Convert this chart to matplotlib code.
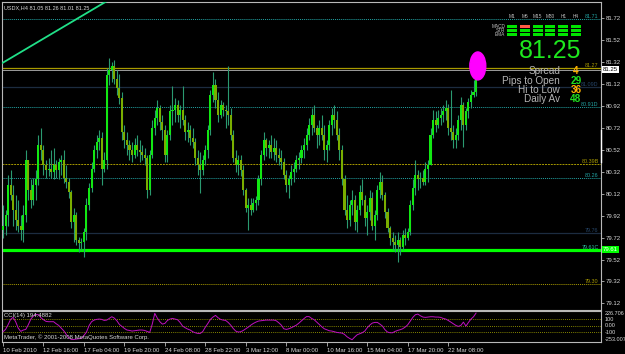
import numpy as np
import matplotlib
matplotlib.use('Agg')
import matplotlib.pyplot as plt
from matplotlib.patches import Ellipse, Rectangle

plt.rcParams['font.family'] = ['Liberation Sans', 'DejaVu Sans']

# =============================================================================
# DATA  (USDX H4)
# =============================================================================

FIRST_OPEN = 79.79

highs = [
    80.02, 79.97, 80.29, 80.34, 80.20, 80.11, 80.06, 79.93, 80.02, 80.52,
    80.43, 80.25, 80.26, 80.34, 80.66, 80.72, 80.56, 80.43, 80.45, 80.52,
    80.54, 80.43, 80.45, 80.47, 80.52, 80.38, 80.26, 80.15, 79.99, 79.95,
    79.73, 79.72, 79.81, 80.08, 80.22, 80.41, 80.56, 80.66, 80.70, 80.68,
    80.50, 81.27, 81.36, 81.32, 81.34, 81.25, 81.21, 81.05, 80.75, 80.68,
    80.61, 80.59, 80.63, 80.66, 80.61, 80.56, 80.54, 80.47, 80.52, 80.79,
    80.88, 80.97, 80.93, 80.84, 80.75, 80.70, 80.93, 81.10, 80.99, 80.97,
    80.93, 81.10, 80.84, 80.77, 80.75, 80.72, 80.63, 80.52, 80.50, 80.47,
    80.56, 80.75, 81.07, 81.23, 81.17, 81.05, 80.97, 80.96, 80.93, 81.28,
    80.90, 80.70, 80.52, 80.47, 80.47, 80.38, 80.17, 80.08, 80.08, 80.08,
    80.10, 80.29, 80.52, 80.68, 80.63, 80.61, 80.66, 80.63, 80.61, 80.54,
    80.52, 80.45, 80.34, 80.29, 80.38, 80.41, 80.47, 80.50, 80.56, 80.63,
    80.72, 80.81, 80.90, 80.93, 80.75, 80.79, 80.84, 80.75, 80.61, 80.79,
    80.90, 80.93, 80.87, 80.72, 80.56, 80.29, 80.11, 80.06, 80.15, 80.11,
    80.02, 80.20, 80.25, 80.11, 80.02, 80.15, 80.14, 79.97, 80.20, 80.32,
    80.29, 80.14, 79.99, 79.83, 79.77, 79.74, 79.77, 79.73, 79.79, 79.81,
    79.81, 80.06, 80.25, 80.43, 80.34, 80.32, 80.34, 80.41, 80.43, 80.72,
    80.88, 80.87, 80.88, 80.90, 80.93, 80.97, 80.94, 81.07, 80.75, 80.72,
    80.84, 81.00, 80.96, 80.90, 80.99, 81.07, 81.16, 81.26,
]

lows = [
    79.72, 79.74, 79.83, 80.06, 79.83, 79.79, 79.77, 79.70, 79.68, 79.86,
    80.06, 79.99, 80.02, 80.06, 80.20, 80.43, 80.29, 80.26, 80.28, 80.26,
    80.25, 80.26, 80.25, 80.29, 80.22, 80.17, 80.08, 79.81, 79.68, 79.65,
    79.59, 79.61, 79.54, 79.70, 79.97, 80.14, 80.32, 80.45, 80.52, 80.20,
    80.32, 80.35, 81.11, 81.14, 81.12, 81.02, 80.94, 80.61, 80.54, 80.47,
    80.43, 80.41, 80.45, 80.46, 80.41, 80.43, 80.38, 80.08, 80.11, 80.45,
    80.66, 80.75, 80.70, 80.61, 80.41, 80.41, 80.61, 80.75, 80.77, 80.77,
    80.72, 80.75, 80.61, 80.59, 80.56, 80.54, 80.38, 80.29, 80.13, 80.29,
    80.38, 80.45, 80.66, 80.96, 80.90, 80.77, 80.81, 80.83, 80.72, 80.75,
    80.61, 80.41, 80.32, 80.29, 80.28, 80.11, 79.95, 79.79, 79.93, 79.95,
    79.97, 80.02, 80.20, 80.43, 80.46, 80.45, 80.45, 80.43, 80.41, 80.38,
    80.35, 80.25, 80.14, 80.08, 80.20, 80.23, 80.32, 80.35, 80.40, 80.45,
    80.52, 80.61, 80.66, 80.68, 80.54, 80.56, 80.61, 80.43, 80.41, 80.52,
    80.66, 80.72, 80.61, 80.43, 80.20, 79.93, 79.81, 79.83, 79.93, 79.79,
    79.77, 79.93, 80.02, 79.83, 79.74, 79.88, 79.79, 79.70, 79.88, 80.08,
    80.06, 79.90, 79.77, 79.65, 79.61, 79.59, 79.50, 79.56, 79.61, 79.65,
    79.70, 79.74, 79.97, 80.11, 80.15, 80.17, 80.20, 80.20, 80.23, 80.38,
    80.63, 80.68, 80.72, 80.75, 80.77, 80.79, 80.66, 80.61, 80.54, 80.54,
    80.61, 80.70, 80.55, 80.70, 80.81, 80.90, 81.00, 81.01,
]

closes = [
    79.83, 79.93, 80.20, 80.11, 79.97, 79.88, 79.83, 79.79, 79.93, 80.43,
    80.15, 80.06, 80.20, 80.25, 80.56, 80.52, 80.38, 80.34, 80.35, 80.32,
    80.38, 80.34, 80.41, 80.43, 80.26, 80.23, 80.14, 79.86, 79.93, 79.70,
    79.67, 79.68, 79.77, 80.02, 80.17, 80.35, 80.52, 80.59, 80.63, 80.35,
    80.43, 81.20, 81.25, 81.28, 81.17, 81.08, 80.99, 80.68, 80.61, 80.56,
    80.52, 80.47, 80.56, 80.52, 80.50, 80.47, 80.45, 80.15, 80.47, 80.72,
    80.81, 80.90, 80.77, 80.70, 80.47, 80.66, 80.87, 80.88, 80.93, 80.84,
    80.88, 80.79, 80.68, 80.70, 80.63, 80.59, 80.45, 80.38, 80.34, 80.43,
    80.52, 80.70, 81.02, 81.11, 80.97, 80.84, 80.93, 80.88, 80.87, 80.84,
    80.66, 80.45, 80.38, 80.43, 80.34, 80.15, 79.99, 80.02, 79.97, 80.04,
    80.06, 80.25, 80.47, 80.61, 80.54, 80.56, 80.50, 80.54, 80.47, 80.45,
    80.41, 80.29, 80.20, 80.25, 80.32, 80.35, 80.43, 80.45, 80.52, 80.56,
    80.66, 80.75, 80.84, 80.72, 80.66, 80.72, 80.66, 80.52, 80.56, 80.75,
    80.84, 80.79, 80.66, 80.52, 80.25, 79.97, 79.88, 80.02, 80.06, 79.86,
    79.97, 80.14, 80.06, 79.90, 79.95, 80.08, 79.83, 79.93, 80.15, 80.23,
    80.11, 79.95, 79.81, 79.72, 79.68, 79.65, 79.70, 79.63, 79.74, 79.72,
    79.77, 80.02, 80.17, 80.29, 80.25, 80.26, 80.23, 80.35, 80.38, 80.66,
    80.79, 80.75, 80.81, 80.84, 80.87, 80.90, 80.72, 80.68, 80.61, 80.66,
    80.79, 80.93, 80.75, 80.87, 80.96, 81.02, 81.05, 81.25,
]

cci = [
    -94, -58, 14, 97, 128, 61, -37, -89, -68, -58,
    14, 102, 148, 174, 169, 123, 92, 66, 61, 61,
    61, 30, 4, -37, -79, -135, -187, -213, -213, -208,
    -203, -197, -151, -99, -1, 61, 86, 97, 102, 97,
    81, 86, 112, 138, 117, 76, 19, -12, -43, -68,
    -74, -84, -79, -74, -68, -68, -74, -89, -105, 24,
    190, 117, 61, 24, 35, 81, 102, 112, 102, 92,
    50, -7, -32, -53, -68, -94, -110, -120, -120, -89,
    -22, 35, 97, 133, 159, 123, 97, 86, 81, 50,
    9, -43, -84, -99, -94, -74, -48, -22, 9, 35,
    55, 71, 76, 81, 86, 86, 86, 86, 76, 45,
    9, -48, -58, -48, -32, -12, 9, 40, 76, 110,
    140, 140, 112, 92, 55, 19, -17, -48, -63, -79,
    -84, -94, -105, -110, -115, -135, -172, -197, -218, -177,
    -141, -125, -110, -84, -32, 9, 40, 50, 50, 24,
    -7, -63, -99, -110, -110, -89, -74, -63, -48, -22,
    14, 71, 128, 169, 179, 153, 133, 128, 133, 138,
    138, 133, 133, 128, 112, 102, 81, 55, 30, 4,
    -12, 4, 55, -7, 50, 102, 138, 194.4882,
]

time_labels = ["10 Feb 2010", "12 Feb 16:00", "17 Feb 04:00", "19 Feb 20:00",
               "24 Feb 08:00", "28 Feb 22:00", "3 Mar 12:00", "8 Mar 00:00",
               "10 Mar 16:00", "15 Mar 04:00", "17 Mar 20:00", "22 Mar 08:00"]
BARS_PER_LABEL = 16

price_ticks = [81.72, 81.52, 81.32, 81.12, 80.92, 80.72, 80.52, 80.32,
               80.12, 79.92, 79.72, 79.52, 79.32, 79.12]

level_prices = [81.71, 81.27, 81.09, 80.91, 80.39, 80.26, 79.76, 79.61, 79.30]
level_names  = ["81.71", "81.27", "81.09D", "80.91D", "80.39B", "80.26",
                "79.76", "79.61C", "79.30"]

BID = 81.25
trend_bars   = [-0.4, 45.0]
trend_prices = [81.31, 81.93]

cci_levels = [100, 0, -100]
CCI_MAX, CCI_MIN = 226.706, -253.007

tf_names   = ["M1", "M5", "M15", "M30", "H1", "H4"]
sig_names  = ["MACD", "STR", "EMA"]
sig_macd   = [1, 0, 1, 1, 1, 1]
sig_str    = [1, 1, 1, 1, 1, 1]
sig_ema    = [1, 1, 1, 1, 1, 1]

info_names  = ["Spread", "Pips to Open", "Hi to Low", "Daily Av"]
info_values = ["4", "29", "36", "48"]

# =============================================================================
# STYLE
# =============================================================================

BG     = '#000000'
FRAME  = '#b8b8b8'
TXT    = '#d8d8d8'
WICK   = '#2a9a70'
BULL   = '#12e812'
BEAR   = '#7aae00'
TEAL   = '#22a4a4'
OLIVE  = '#a89a00'
NAVY   = '#1c2c40'
LIME   = '#00ff00'
SMALL  = 4.3

level_style = {
    "81.71":  (TEAL,  (0, (1, 1)), 0.7, TEAL),
    "81.27":  (OLIVE, '-',         0.9, OLIVE),
    "81.09D": (NAVY,  '-',         0.9, '#26466a'),
    "80.91D": (TEAL,  (0, (1, 1)), 0.7, TEAL),
    "80.39B": (OLIVE, (0, (2, 1)), 0.7, OLIVE),
    "80.26":  (TEAL,  (0, (1, 1)), 0.7, TEAL),
    "79.76":  (NAVY,  '-',         0.9, '#26466a'),
    "79.61C": (LIME,  '-',         2.3, '#30c0a0'),
    "79.30":  (OLIVE, (0, (1, 1)), 0.7, OLIVE),
}

W, H = 625, 354
fig = plt.figure(figsize=(W / 100, H / 100), dpi=100)
fig.patch.set_facecolor(BG)


def fx(px):
    return px / W


def fy(py):
    return 1 - py / H


ax = fig.add_axes([fx(2), fy(310), fx(601) - fx(2), fy(2) - fy(310)])
ax_c = fig.add_axes([fx(2), fy(342), fx(601) - fx(2), fy(311) - fy(342)], sharex=ax)

for a in (ax, ax_c):
    a.set_facecolor(BG)
    for s in a.spines.values():
        s.set_color(FRAME)
        s.set_linewidth(0.8)

# =============================================================================
# PRICE PANEL
# =============================================================================

x = np.arange(len(closes))
c = np.array(closes)
o = np.array([FIRST_OPEN] + closes[:-1])
up = c >= o

ax.vlines(x, lows, highs, color=WICK, lw=0.8, zorder=3)
ax.bar(x[up], c[up] - o[up], bottom=o[up], width=0.8, color=BULL, lw=0, zorder=4)
ax.bar(x[~up], o[~up] - c[~up], bottom=c[~up], width=0.8, color=BEAR, lw=0, zorder=4)

ax.set_xlim(-0.4, 236.4)
ax.set_ylim(79.060, 81.868)

for p, name in zip(level_prices, level_names):
    col, ls, lw, tcol = level_style[name]
    ax.axhline(p, color=col, ls=ls, lw=lw, zorder=2)
    ax.text(0.996, p, name, transform=ax.get_yaxis_transform(), ha='right',
            va='bottom', fontsize=3.9, color=tcol, zorder=5)

ax.axhline(BID, color='#9c9c9c', lw=0.7, zorder=2)
ax.plot(trend_bars, trend_prices, color='#20e088', lw=1.3, zorder=3)
ax.add_patch(Ellipse((187.7, 81.285), 6.3, 0.255, color='#ff00ff', zorder=6))

ax.yaxis.tick_right()
ax.set_yticks(price_ticks)
ax.set_yticklabels([f"{p:.2f}" for p in price_ticks])
ax.tick_params(axis='y', colors=FRAME, labelcolor=TXT, labelsize=SMALL,
               length=2, width=0.6, pad=1.5)
ax.tick_params(axis='x', bottom=False, labelbottom=False)

ax.text(0.004, 0.99, "USDX,H4 81.05 81.26 81.01 81.25", transform=ax.transAxes,
        ha='left', va='top', fontsize=4.0, color=TXT)

# scroll marker on the price scale
ax.plot([1, 1], [80.70, 80.41], transform=ax.get_yaxis_transform(), color='white',
        lw=1.0, clip_on=False, zorder=7)

# highlighted prices on the scale
for p, fc, tc in ((BID, 'white', 'black'), (79.61, LIME, 'white')):
    ax.text(1.003, p, f"{p:.2f}", transform=ax.get_yaxis_transform(), ha='left',
            va='center', fontsize=SMALL, color=tc,
            bbox=dict(boxstyle='square,pad=0.15', fc=fc, ec='none'), zorder=8)

# =============================================================================
# CCI PANEL
# =============================================================================

ax_c.plot(x, cci, color='#c010c0', lw=0.7, zorder=3)
for lv in cci_levels:
    ax_c.axhline(lv, color='#b0b000', ls=(0, (1, 1.5)), lw=0.6, zorder=2)
ax_c.set_ylim(CCI_MIN, CCI_MAX)
ax_c.set_yticks([])
ax_c.text(0.004, 0.93, "CCI(14) 194.4882", transform=ax_c.transAxes, ha='left',
          va='top', fontsize=SMALL, color=TXT)
ax_c.text(0.004, 0.06, "MetaTrader, \u00a9 2001-2008 MetaQuotes Software Corp.",
          transform=ax_c.transAxes, ha='left', va='bottom', fontsize=SMALL, color=TXT)

ytr = ax_c.get_yaxis_transform()
cci_tick_text = [(CCI_MAX, "226.706", 'top'), (100, "100", 'center'),
                 (0, "0.00", 'center'), (-100, "-100", 'center'),
                 (CCI_MIN, "-253.007", 'bottom')]
for v, s, va in cci_tick_text:
    ax_c.text(1.006, v, s, transform=ytr, ha='left', va=va, fontsize=SMALL - 0.3,
              color=TXT, clip_on=False)

ax_c.set_xticks([i * BARS_PER_LABEL for i in range(len(time_labels))])
ax_c.set_xticklabels(time_labels)
for lbl in ax_c.get_xticklabels():
    lbl.set_horizontalalignment('left')
ax_c.tick_params(axis='x', colors=FRAME, labelcolor=TXT, labelsize=SMALL,
                 length=3, width=0.6, pad=1.5)

# =============================================================================
# DASHBOARD
# =============================================================================

col_left = [507 + 12.8 * k for k in range(len(tf_names))]
for k, name in enumerate(tf_names):
    fig.text(fx(col_left[k] + 5), fy(16), name, ha='center', va='center',
             fontsize=3.4, color='#c0c0c0')

for r, (name, sig) in enumerate(zip(sig_names, (sig_macd, sig_str, sig_ema))):
    y0 = 24.8 + 4 * r
    fig.text(fx(505), fy(y0 + 1.4), name, ha='right', va='center', fontsize=3.4,
             color='#c0c0c0')
    for k, s in enumerate(sig):
        fig.add_artist(Rectangle((fx(col_left[k]), fy(y0 + 2.8)), 10 / W, 2.8 / H,
                                 transform=fig.transFigure,
                                 fc='#00e400' if s else '#ff5a44', ec='none'))

fig.text(fx(550), fy(51), "81.25", ha='center', va='center', fontsize=18,
         color='#1ee81e')

info_y = [71, 81, 90, 99]
info_col = ['#ffb000', '#20e020', '#ffb000', '#20e020']
for name, val, yy, vc in zip(info_names, info_values, info_y, info_col):
    fig.text(fx(560), fy(yy), name, ha='right', va='center', fontsize=7.2,
             color='#b4b4b4')
    fig.text(fx(576), fy(yy), val, ha='center', va='center', fontsize=7.2,
             color=vc, fontweight='bold', zorder=10)

fig.savefig("out.png", dpi=100, facecolor=BG)
